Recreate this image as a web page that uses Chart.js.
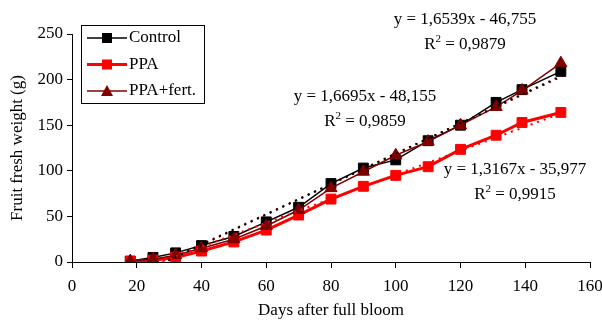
<!DOCTYPE html>
<html>
<head>
<meta charset="utf-8">
<script src="https://cdn.jsdelivr.net/npm/chart.js@4"></script>
<style>
  body { margin: 0; background: #fff; }
  #wrap { width: 602px; height: 329px; }
</style>
</head>
<body>
<div id="wrap"><canvas id="myChart" width="602" height="329"></canvas></div>
<script>
// data
let days = [18, 25, 32, 40, 50, 60, 70, 80, 90, 100, 110, 120, 131, 139, 151];
let control = [1, 5, 10, 18, 28, 44, 60, 86, 103, 112, 133, 150, 175, 189, 209];
let ppa = [0.5, 2, 5, 12, 22, 35, 51.5, 69, 83, 95, 104.5, 123.5, 139, 153, 164];
let ppaFert = [1, 3, 7.5, 15, 25, 39.5, 57, 81, 99, 117, 132, 150, 170, 188, 218];

// linear trend lines as printed on the chart (control, PPA, PPA+fert.)
let trendSlope = [1.6695, 1.3167, 1.6539];
let trendIntercept = [-48.155, -35.977, -46.755];
let trendLabels = [
  ["y = 1,6695x - 48,155", "0,9859"],
  ["y = 1,3167x - 35,977", "0,9915"],
  ["y = 1,6539x - 46,755", "0,9879"]
];

let xTicks = [0, 20, 40, 60, 80, 100, 120, 140, 160];
let yTicks = [0, 50, 100, 150, 200, 250];

const FONT = "'Liberation Serif', 'Times New Roman', serif";
const FS = 17;

function pts(ys) {
  return days.map((d, i) => ({x: d, y: ys[i]}));
}
function trend(k) {
  let x0 = days[0], x1 = days[days.length - 1];
  return [
    {x: x0, y: trendSlope[k] * x0 + trendIntercept[k]},
    {x: x1, y: trendSlope[k] * x1 + trendIntercept[k]}
  ];
}

// where the equations sit (pixels)
let labelPos = [[365, 97], [515, 170], [465, 20]];

const textPlugin = {
  id: 'extras',
  afterDraw(chart) {
    const ctx = chart.ctx;
    ctx.save();
    ctx.fillStyle = '#000';
    ctx.textBaseline = 'middle';
    // equations
    trendLabels.forEach((t, i) => {
      let [cx, cy] = labelPos[i];
      ctx.font = FS + "px " + FONT;
      ctx.textAlign = 'center';
      ctx.fillText(t[0], cx, cy);
      // R² line
      let rest = " = " + t[1];
      let wR = ctx.measureText("R").width;
      ctx.font = "11px " + FONT;
      let w2 = ctx.measureText("2").width;
      ctx.font = FS + "px " + FONT;
      let wRest = ctx.measureText(rest).width;
      let total = wR + w2 + wRest;
      let sx = cx - total / 2;
      let ry = cy + 25;
      ctx.textAlign = 'left';
      ctx.fillText("R", sx, ry);
      ctx.font = "11px " + FONT;
      ctx.fillText("2", sx + wR, ry - 6);
      ctx.font = FS + "px " + FONT;
      ctx.fillText(rest, sx + wR + w2, ry);
    });

    // legend box
    let bx = 81, by = 25, bw = 123, bh = 78;
    ctx.fillStyle = '#fff';
    ctx.fillRect(bx, by, bw, bh);
    ctx.strokeStyle = '#000';
    ctx.lineWidth = 1;
    ctx.strokeRect(bx + 0.5, by + 0.5, bw, bh);
    let items = [
      {name: 'Control', color: '#000000', lw: 1.5, shape: 'rect'},
      {name: 'PPA', color: '#FF0000', lw: 3, shape: 'rect'},
      {name: 'PPA+fert.', color: '#800000', lw: 1.5, shape: 'tri'}
    ];
    items.forEach((it, i) => {
      let y = by + 13 + i * 26.5;
      ctx.strokeStyle = it.color;
      ctx.lineWidth = it.lw;
      ctx.beginPath();
      ctx.moveTo(87, y);
      ctx.lineTo(127, y);
      ctx.stroke();
      ctx.fillStyle = it.color;
      if (it.shape === 'rect') {
        ctx.fillRect(102, y - 5, 10, 10);
      } else {
        ctx.beginPath();
        ctx.moveTo(107, y - 6);
        ctx.lineTo(113, y + 5);
        ctx.lineTo(101, y + 5);
        ctx.closePath();
        ctx.fill();
      }
      ctx.fillStyle = '#000';
      ctx.font = FS + "px " + FONT;
      ctx.textAlign = 'left';
      ctx.fillText(it.name, 129, y);
    });
    ctx.restore();
  }
};

let myChart = document.getElementById("myChart").getContext('2d');

let chart = new Chart(myChart, {
  type: 'line',
  data: {
    datasets: [
      {
        label: 'PPA+fert.',
        data: pts(ppaFert),
        borderColor: '#800000',
        backgroundColor: '#800000',
        borderWidth: 1.5,
        pointStyle: 'triangle',
        pointRadius: 7,
        pointBorderWidth: 1,
        order: 1
      },
      {
        label: 'PPA',
        data: pts(ppa),
        borderColor: '#FF0000',
        backgroundColor: '#FF0000',
        borderWidth: 3,
        pointStyle: 'rect',
        pointRadius: 7,
        pointBorderWidth: 1,
        order: 2
      },
      {
        label: 'Control',
        data: pts(control),
        borderColor: '#000000',
        backgroundColor: '#000000',
        borderWidth: 1.5,
        pointStyle: 'rect',
        pointRadius: 7,
        pointBorderWidth: 1,
        order: 3
      },
      {
        label: 'trend control',
        data: trend(0),
        borderColor: '#000000',
        borderWidth: 2,
        borderDash: [2, 5],
        pointRadius: 0,
        order: 0
      },
      {
        label: 'trend PPA',
        data: trend(1),
        borderColor: '#FF0000',
        borderWidth: 2,
        borderDash: [2, 5],
        pointRadius: 0,
        order: 0
      },
      {
        label: 'trend PPA+fert.',
        data: trend(2),
        borderColor: '#800000',
        borderWidth: 2,
        borderDash: [2, 5],
        pointRadius: 0,
        order: 0
      }
    ]
  },
  options: {
    responsive: false,
    animation: false,
    layout: { padding: { left: 0, right: 12, top: 34, bottom: 0 } },
    plugins: {
      legend: { display: false },
      tooltip: { enabled: false }
    },
    scales: {
      x: {
        type: 'linear',
        min: 0,
        max: 160,
        afterBuildTicks: s => { s.ticks = xTicks.map(v => ({value: v})); },
        afterFit: s => { s.height = 67; s.paddingRight = 0; s.paddingLeft = 0; },
        grid: { drawOnChartArea: false, drawTicks: true, tickLength: 6, color: '#000' },
        border: { color: '#000', width: 1 },
        ticks: { color: '#000', padding: 8, maxRotation: 0, font: { family: FONT, size: FS } },
        title: {
          display: true,
          text: 'Days after full bloom',
          color: '#000',
          font: { family: FONT, size: FS },
          padding: { top: 0, bottom: 8 }
        }
      },
      y: {
        min: 0,
        max: 250,
        afterBuildTicks: s => { s.ticks = yTicks.map(v => ({value: v})); },
        afterFit: s => { s.width = 72; s.paddingTop = 0; s.paddingBottom = 0; },
        grid: { drawOnChartArea: false, drawTicks: true, tickLength: 5, color: '#000' },
        border: { color: '#000', width: 1 },
        ticks: { color: '#000', padding: 4, font: { family: FONT, size: FS } },
        title: {
          display: true,
          text: 'Fruit fresh weight (g)',
          color: '#000',
          font: { family: FONT, size: FS },
          padding: { top: 7, bottom: 0 }
        }
      }
    }
  },
  plugins: [textPlugin]
});
</script>
</body>
</html>
